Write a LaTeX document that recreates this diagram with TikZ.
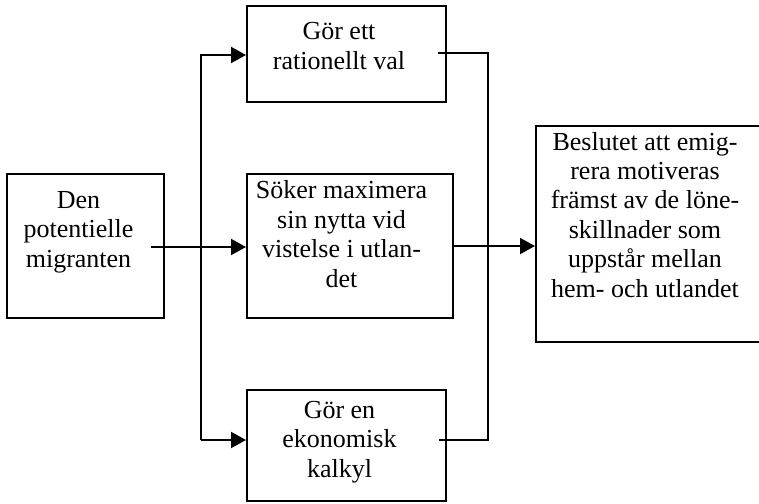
\documentclass[tikz,border=0pt]{standalone}
\usepackage{fontspec}
\setmainfont{Liberation Serif}
\usetikzlibrary{arrows.meta,calc}

\tikzset{
  box/.style={draw, line width=1pt, inner sep=0pt},
  txt/.style={align=center, anchor=base, inner sep=0pt,
    font=\fontsize{13}{14.7}\selectfont},
  flow/.style={line width=1pt},
  tip/.style={-{Triangle[length=7.5pt,width=8pt]}}
}

\begin{document}
\begin{tikzpicture}[x=0.5pt,y=-0.5pt]
\useasboundingbox (0,0) rectangle (759,503);

% boxes
\node[box, minimum width=78.5pt, minimum height=72pt] (src) at (85.5,246) {};
\node[box, minimum width=99.5pt, minimum height=48pt] (val) at (346.5,54) {};
\node[box, minimum width=103pt, minimum height=72pt] (max) at (350,246) {};
\node[box, minimum width=99.5pt, minimum height=55.5pt] (kal) at (346.5,445.5) {};
\node[box, minimum width=114.5pt, minimum height=108pt] (res) at (650.5,234) {};

% texts (placed at the baseline of the last line)
\node[txt] (srctxt) at (78.5,267) {Den\\potentielle\\migranten};
\node[txt] (valtxt) at (339,69) {Gör ett\\rationellt val};
\node[txt] (maxtxt) at (341.5,287) {Söker maximera\\sin nytta vid\\vistelse i utlan-\\det};
\node[txt] (kaltxt) at (339.5,477) {Gör en\\ekonomisk\\kalkyl};
\node[txt] (restxt) at (645,297) {Beslutet att emig-\\rera motiveras\\främst av de löne-\\skillnader som\\uppstår mellan\\hem- och utlandet};

\coordinate (srcout) at (151,247);
\coordinate (valout) at (438,53);
\coordinate (kalout) at (439,440);
\coordinate (lt) at (201,55);
\coordinate (lb) at (201,440);
\coordinate (rt) at (488,53);
\coordinate (rb) at (488,440);

% connectors
\draw[flow,tip] (srcout) -- (srcout -| max.west);
\draw[flow,tip] (lb) -- (lt) -- (lt -| val.west);
\draw[flow,tip] (lb) -- (lb -| kal.west);
\draw[flow] (valout) -- (rt) -- (rb) -- (kalout);
\draw[flow,tip] (max.east) -- (max.east -| res.west);

\end{tikzpicture}
\end{document}
